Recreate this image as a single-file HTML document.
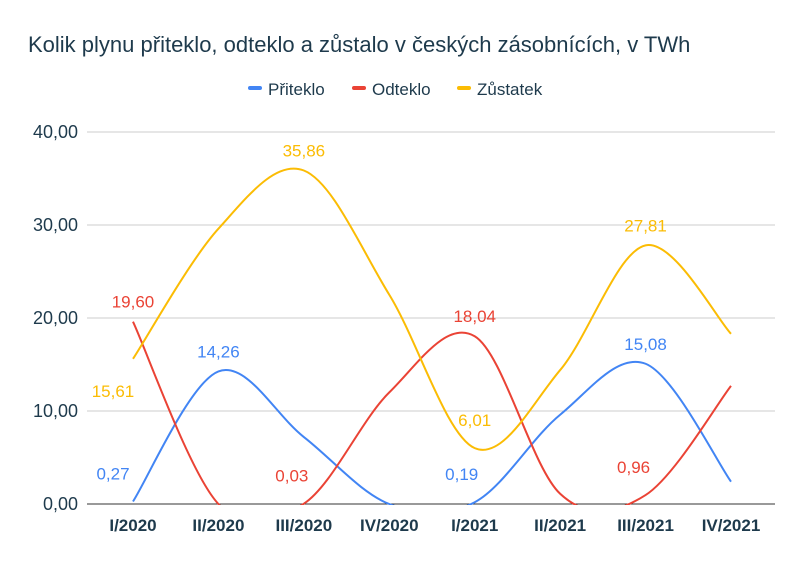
<!DOCTYPE html>
<html><head><meta charset="utf-8"><style>
body{margin:0;background:#fff;font-family:"Liberation Sans",sans-serif;}
svg{display:block}
</style></head><body>
<svg id="chart" width="803" height="568">
<defs><clipPath id="plot"><rect x="87" y="120" width="690" height="385"/></clipPath></defs>
<text x="28" y="52" font-size="22" fill="#1e3a4c">Kolik plynu přiteklo, odteklo a zůstalo v českých zásobnících, v TWh</text>
<g id="legend" font-size="17" fill="#1e3a4c">
<g><rect x="248" y="86" width="14" height="4" rx="2" fill="#4285f4"/><text x="268" y="95">Přiteklo</text></g>
<g><rect x="352" y="86" width="14" height="4" rx="2" fill="#ea4335"/><text x="372" y="95">Odteklo</text></g>
<g><rect x="457" y="86" width="14" height="4" rx="2" fill="#fbbc04"/><text x="477" y="95">Zůstatek</text></g>
</g>
<g id="grid"></g><g id="series" clip-path="url(#plot)"></g><g id="labels"></g>
</svg>
<script>
const categories=["I/2020","II/2020","III/2020","IV/2020","I/2021","II/2021","III/2021","IV/2021"];
const priteklo=[0.27,14.26,7.2,0.0,0.19,9.6,15.08,2.4];
const odteklo=[19.60,0.0,0.03,12.0,18.04,1.1,0.96,12.7];
const zustatek=[15.61,29.6,35.86,22.5,6.01,14.4,27.81,18.3];
const yTicks=[0,10,20,30,40];
const yTickLabels=["0,00","10,00","20,00","30,00","40,00"];
const labelIdxP=[0,1,4,6],labelIdxO=[0,2,4,6],labelIdxZ=[0,2,4,6];
const NS="http://www.w3.org/2000/svg";
const X0=133,X1=731,Y0=504,Y1=132;
const x=i=>X0+i*(X1-X0)/(categories.length-1);
const y=v=>Y0-(v/40)*(Y0-Y1);
function mk(t,a,p){const e=document.createElementNS(NS,t);for(const k in a)e.setAttribute(k,a[k]);p.appendChild(e);return e;}
const grid=document.getElementById('grid');
yTicks.forEach((t,i)=>{
 const l=mk('line',{x1:87,x2:775,y1:y(t),y2:y(t),stroke:i==0?'#333':'#ccc','stroke-width':1},grid);
 
 
 const tx=mk('text',{x:78,y:y(t)+6,'text-anchor':'end','font-size':18,fill:'#1e3a4c'},grid);tx.textContent=yTickLabels[i];
 
 
});
categories.forEach((c,i)=>{
 const tx=mk('text',{x:x(i),y:531,'text-anchor':'middle','font-size':17,'font-weight':'bold',fill:'#1e3a4c'},grid);tx.textContent=c;
 
 
});
function path(vals){
 const p=vals.map((v,i)=>[x(i),y(v)]);let d='M'+p[0][0]+','+p[0][1];const t=0.5;
 for(let i=0;i<p.length-1;i++){
  const p0=p[i-1]||p[i],p1=p[i],p2=p[i+1],p3=p[i+2]||p2;
  const c1=[p1[0]+(p2[0]-p0[0])*t/3,p1[1]+(p2[1]-p0[1])*t/3];
  const c2=[p2[0]-(p3[0]-p1[0])*t/3,p2[1]-(p3[1]-p1[1])*t/3];
  d+=` C${c1[0]},${c1[1]} ${c2[0]},${c2[1]} ${p2[0]},${p2[1]}`;
 }return d;}
const S=document.getElementById('series'),L=document.getElementById('labels');
[[priteklo,'#4285f4','line-priteklo',labelIdxP],[odteklo,'#ea4335','line-odteklo',labelIdxO],[zustatek,'#fbbc04','line-zustatek',labelIdxZ]].forEach(([v,c,n,idx])=>{
 const e=mk('path',{d:path(v),fill:'none',stroke:c,'stroke-width':2},S);
 
 
 idx.forEach(i=>{
  let dx=0,dy=-14;
  if(n==='line-zustatek'&&i==0){dy=+38;dx=-20;}
  if(n==='line-zustatek'&&i==4){dy=-22;}
  if(n==='line-priteklo'&&(i==0||i==4)){dy=-22;dx=-20;}
  if(n==='line-priteklo'&&i==4)dx=-13;
  if(n==='line-odteklo'&&(i==2||i==6)){dy=-22;dx=-12;}
  const tx=mk('text',{x:x(i)+dx,y:y(v[i])+dy,'text-anchor':'middle','font-size':17,fill:c},L);
  tx.textContent=v[i].toFixed(2).replace('.',',');
  
  
 });
});
</script>
</body></html>
